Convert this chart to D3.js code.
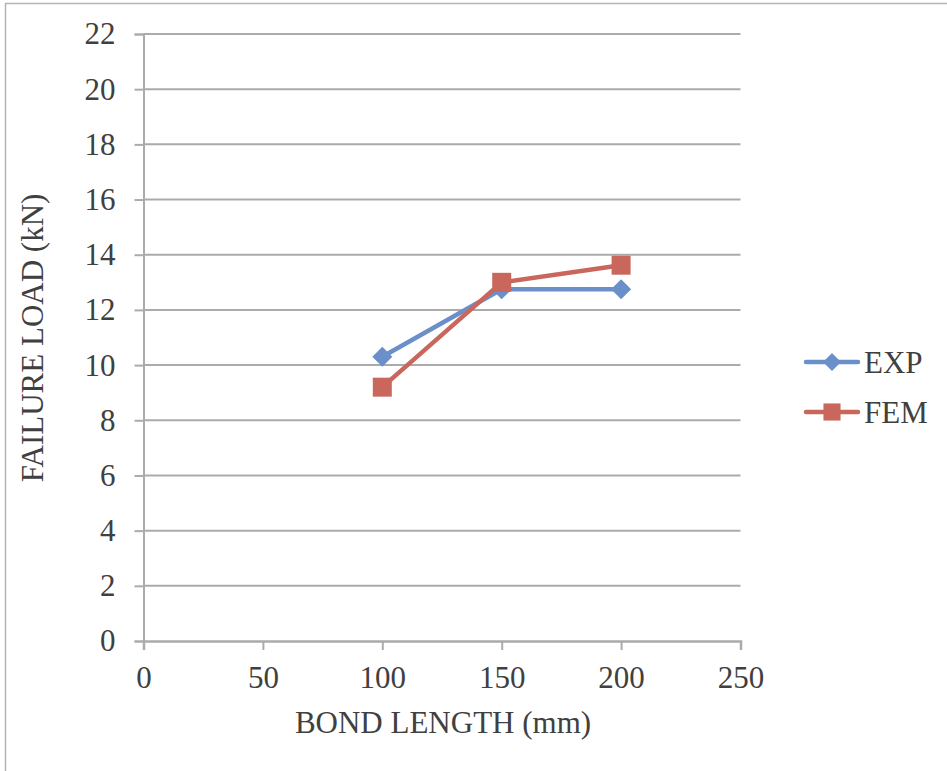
<!DOCTYPE html>
<html>
<head>
<meta charset="utf-8">
<script src="https://cdn.jsdelivr.net/npm/d3@7"></script>
<style>
  html, body { margin: 0; padding: 0; background: #fff; }
  svg { display: block; }
  text { font-family: "Liberation Serif", "Times New Roman", serif; fill: #404040; }
</style>
</head>
<body>
<svg id="chart" width="947" height="771"></svg>
<script>
// Bond length (mm) against failure load (kN)
const bondLength = [100, 150, 200];
const expLoad = [10.3, 12.75, 12.75];
const femLoad = [9.2, 13.0, 13.62];
const seriesNames = ["EXP", "FEM"];
const xTicks = [0, 50, 100, 150, 200, 250];
const yTicks = [0, 2, 4, 6, 8, 10, 12, 14, 16, 18, 20, 22];
const xTitle = "BOND LENGTH (mm)";
const yTitle = "FAILURE LOAD (kN)";

const colors = { EXP: "#6b8fc8", FEM: "#c9675d" };
const gridColor = "#ababab";
const fontSize = 31;

const svg = d3.select("#chart");

// chart frame
svg.append("rect")
  .attr("x", 5.5).attr("y", 3.5)
  .attr("width", 960).attr("height", 800)
  .attr("fill", "none").attr("stroke", "#b5b5b5").attr("stroke-width", 1.5);

const x = d3.scaleLinear().domain([0, 250]).range([143.5, 740.5]);
const y = d3.scaleLinear().domain([0, 22]).range([641, 34]);

// horizontal gridlines
svg.append("g").selectAll("line")
  .data(yTicks.filter(d => d > 0))
  .join("line")
  .attr("x1", x(0)).attr("x2", x(250))
  .attr("y1", d => y(d)).attr("y2", d => y(d))
  .attr("stroke", gridColor).attr("stroke-width", 2);

// y axis
const yAxis = svg.append("g")
  .attr("transform", `translate(${x(0)},0)`)
  .call(d3.axisLeft(y).tickValues(yTicks).tickSize(9).tickPadding(19));
yAxis.select(".domain").attr("stroke", gridColor).attr("stroke-width", 2);
yAxis.selectAll(".tick line").attr("stroke", gridColor).attr("stroke-width", 2);
yAxis.selectAll(".tick text")
  .attr("font-size", fontSize).attr("fill", "#404040")
  .attr("font-family", "Liberation Serif, Times New Roman, serif");

// x axis
const xAxis = svg.append("g")
  .attr("transform", `translate(0,${y(0)})`)
  .call(d3.axisBottom(x).tickValues(xTicks).tickSize(9).tickPadding(16));
xAxis.select(".domain").attr("stroke", gridColor).attr("stroke-width", 2.5);
xAxis.selectAll(".tick line").attr("stroke", gridColor).attr("stroke-width", 2);
xAxis.selectAll(".tick text")
  .attr("font-size", fontSize).attr("fill", "#404040")
  .attr("font-family", "Liberation Serif, Times New Roman, serif");

// axis titles
svg.append("text")
  .attr("x", 443).attr("y", 733)
  .attr("text-anchor", "middle").attr("font-size", fontSize)
  .text(xTitle);
svg.append("text")
  .attr("transform", "translate(43,338) rotate(-90)")
  .attr("text-anchor", "middle").attr("font-size", fontSize)
  .text(yTitle);

const line = d3.line().x(d => x(d[0])).y(d => y(d[1]));
const diamond = s => `M0,${-s}L${s},0L0,${s}L${-s},0Z`;
const square = s => `M${-s},${-s}H${s}V${s}H${-s}Z`;

const series = [
  { name: seriesNames[0], values: expLoad, shape: diamond, size: 10 },
  { name: seriesNames[1], values: femLoad, shape: square, size: 9.5 }
];

series.forEach(s => {
  const pts = bondLength.map((b, i) => [b, s.values[i]]);
  svg.append("path")
    .attr("d", line(pts))
    .attr("fill", "none").attr("stroke", colors[s.name])
    .attr("stroke-width", 4.5).attr("stroke-linejoin", "round").attr("stroke-linecap", "round");
  svg.append("g").selectAll("path")
    .data(pts)
    .join("path")
    .attr("transform", d => `translate(${x(d[0])},${y(d[1])})`)
    .attr("d", s.shape(s.size))
    .attr("fill", colors[s.name]);
});

// legend
const legendY = [362, 412];
series.forEach((s, i) => {
  const g = svg.append("g").attr("transform", `translate(0,${legendY[i]})`);
  g.append("line")
    .attr("x1", 806).attr("x2", 858).attr("y1", 0).attr("y2", 0)
    .attr("stroke", colors[s.name]).attr("stroke-width", 4.5).attr("stroke-linecap", "round");
  g.append("path")
    .attr("transform", "translate(832,0)")
    .attr("d", s.shape(s.size * 0.9))
    .attr("fill", colors[s.name]);
  g.append("text")
    .attr("x", 864).attr("y", 11)
    .attr("font-size", fontSize)
    .text(s.name);
});
</script>
</body>
</html>
